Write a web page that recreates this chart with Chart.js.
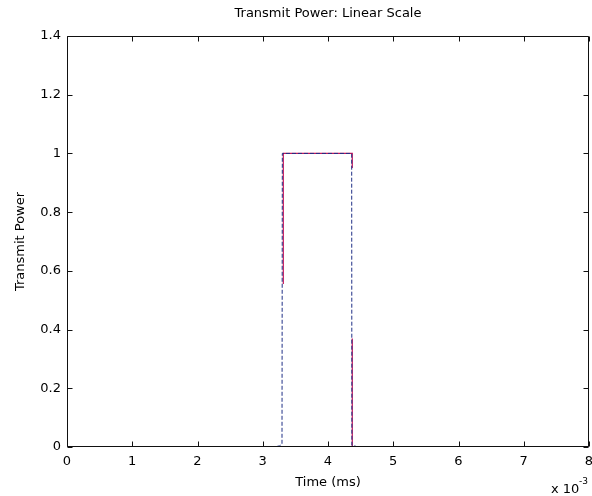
<!DOCTYPE html>
<html><head><meta charset="utf-8">
<script src="https://cdn.jsdelivr.net/npm/chart.js@4"></script>
<style>html,body{margin:0;padding:0;background:#fff}#wrap{width:592px;height:496px}</style>
</head><body><div id="wrap"><canvas id="c" width="592" height="496"></canvas></div>
<script>
// ---- data ----
const titleText = "Transmit Power: Linear Scale";
const xAxisTitle = "Time (ms)";
const yAxisTitle = "Transmit Power";
const xMin = 0, xMax = 8, xStep = 1;
const yMin = 0, yMax = 1.4, yStep = 0.2;

// dashed blue (reference) pulse, time in units of 1e-3
const blueX = [0, 3.18, 3.26, 3.295, 3.30, 4.363, 4.366, 4.40, 4.46, 8];
const blueY = [0, 0, 0.004, 0.01, 1, 1, 0.006, 0.004, 0, 0];
// solid red pulse (null = break in the line)
const redX = [0, 3.28, 3.30, 3.315, 3.315, 4.372, 4.372, 4.372, 4.372, 4.372, 4.40, 8];
const redY = [0, 0, null, 0.555, 1, 1, 0.95, null, 0.37, 0, 0, 0];

const FONT = '"DejaVu Sans", "Liberation Sans", Arial, sans-serif';
const FS = 13;
const toPts = (xs, ys) => xs.map((x, i) => ({x: x, y: ys[i]}));

const boxPlugin = {
  id: 'matlabBox',
  afterDraw(chart) {
    const {ctx, chartArea: a, scales: {x, y}} = chart;
    ctx.save();
    ctx.strokeStyle = '#111';
    ctx.lineWidth = 1;
    const L = Math.round(a.left) + 0.5, R = Math.round(a.right) - 0.5;
    const T = Math.round(a.top) + 0.5, B = Math.round(a.bottom) - 0.5;
    ctx.beginPath();
    ctx.rect(L, T, R - L, B - T);
    x.ticks.forEach((t, i) => {
      const px = Math.round(x.getPixelForTick(i)) + 0.5;
      ctx.moveTo(px, B); ctx.lineTo(px, B - 5);
      ctx.moveTo(px, T); ctx.lineTo(px, T + 5);
    });
    y.ticks.forEach((t, i) => {
      const py = Math.round(y.getPixelForTick(i)) + 0.5;
      ctx.moveTo(L, py); ctx.lineTo(L + 5, py);
      ctx.moveTo(R, py); ctx.lineTo(R - 5, py);
    });
    ctx.stroke();
    // title
    ctx.fillStyle = '#000';
    ctx.font = FS + 'px ' + FONT;
    ctx.textAlign = 'center';
    ctx.textBaseline = 'middle';
    ctx.fillText(titleText, (a.left + a.right) / 2, 14);
    // exponent label
    ctx.textAlign = 'left';
    ctx.fillText('x 10', 551, 490);
    ctx.font = '9px ' + FONT;
    ctx.fillText('-3', 579, 482);
    ctx.restore();
  }
};

new Chart(document.getElementById('c'), {
  type: 'line',
  data: {
    datasets: [
      {data: toPts(blueX, blueY), borderColor: '#1f2f86', borderWidth: 1, borderDash: [4, 2],
       pointRadius: 0, tension: 0, spanGaps: false, fill: false},
      {data: toPts(redX, redY), borderColor: '#c0145a', borderWidth: 1.2,
       pointRadius: 0, tension: 0, spanGaps: false, fill: false}
    ]
  },
  options: {
    responsive: false,
    animation: false,
    devicePixelRatio: 1,
    layout: {padding: {top: 36, right: 3, left: 0, bottom: 0}},
    plugins: {legend: {display: false}, tooltip: {enabled: false}, title: {display: false}},
    scales: {
      x: {
        type: 'linear', min: xMin, max: xMax,
        grid: {display: false, drawTicks: false},
        border: {display: false},
        ticks: {stepSize: xStep, color: '#000', padding: 7, maxRotation: 0,
                font: {family: FONT, size: FS}, callback: v => String(v)},
        title: {display: true, text: xAxisTitle, color: '#000', font: {family: FONT, size: FS},
                padding: {top: 0, bottom: 6}},
        afterFit: s => { s.height = 49; s.paddingRight = 0; s.paddingLeft = 0; }
      },
      y: {
        type: 'linear', min: yMin, max: yMax,
        grid: {display: false, drawTicks: false},
        border: {display: false},
        ticks: {stepSize: yStep, color: '#000', padding: 6,
                font: {family: FONT, size: FS}, callback: v => String(Number(v.toFixed(1)))},
        title: {display: true, text: yAxisTitle, color: '#000', font: {family: FONT, size: FS},
                padding: {top: 13, bottom: 0}},
        afterFit: s => { s.width = 67; s.paddingTop = 0; s.paddingBottom = 0; }
      }
    }
  },
  plugins: [boxPlugin]
});
</script></body></html>
